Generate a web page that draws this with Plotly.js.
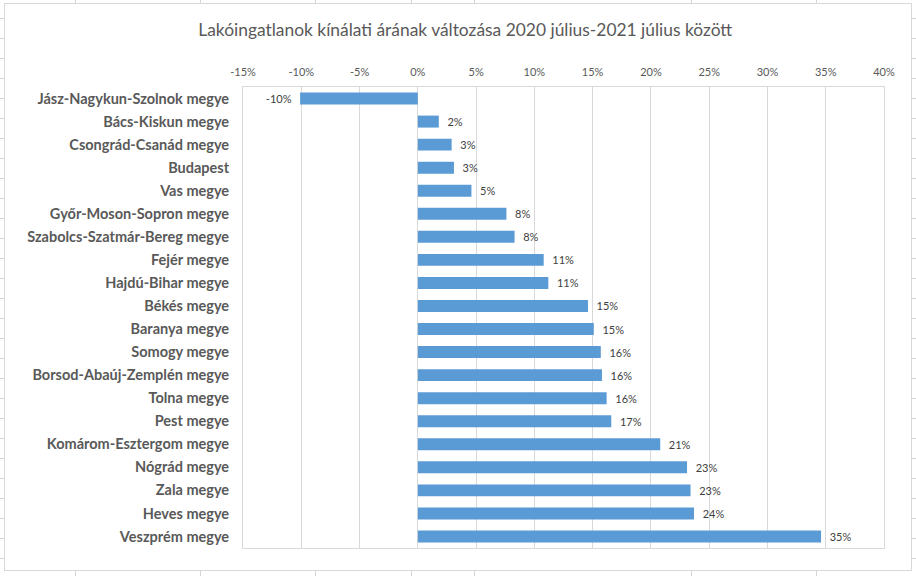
<!DOCTYPE html>
<html>
<head>
<meta charset="utf-8">
<script src="https://cdn.plot.ly/plotly-3.0.1.min.js"></script>
<style>
  body { margin: 0; background: #fff; width: 916px; height: 576px; position: relative; overflow: hidden; }
  .sheet-col { position: absolute; top: 0; height: 576px; width: 1px; background: #d4d4d4; }
  .sheet-row { position: absolute; left: 0; width: 916px; height: 1px; background: #d4d4d4; }
  #frame { position: absolute; left: 4px; top: 3px; width: 906px; height: 566px;
           border: 1px solid #d9d9d9; background: #fff; }
  #chart { width: 906px; height: 566px; }
</style>
</head>
<body>
<div id="frame"><div id="chart"></div></div>
<script>
// counties, top to bottom
var counties = [
  "Jász-Nagykun-Szolnok megye", "Bács-Kiskun megye", "Csongrád-Csanád megye",
  "Budapest", "Vas megye", "Győr-Moson-Sopron megye", "Szabolcs-Szatmár-Bereg megye",
  "Fejér megye", "Hajdú-Bihar megye", "Békés megye", "Baranya megye", "Somogy megye",
  "Borsod-Abaúj-Zemplén megye", "Tolna megye", "Pest megye", "Komárom-Esztergom megye",
  "Nógrád megye", "Zala megye", "Heves megye", "Veszprém megye"
];

// price change in %
var priceChange = [
  -10.1, 1.8, 2.9, 3.1, 4.6, 7.6, 8.3, 10.8, 11.2, 14.6,
  15.1, 15.7, 15.8, 16.2, 16.6, 20.8, 23.1, 23.4, 23.7, 34.6
];

var tickVals = [-15, -10, -5, 0, 5, 10, 15, 20, 25, 30, 35, 40];
var tickLabels = ["-15%", "-10%", "-5%", "0%", "5%", "10%", "15%", "20%", "25%", "30%", "35%", "40%"];

// spreadsheet grid behind the chart
var sheetCols = [75, 200, 315, 411, 474, 691, 816];
sheetCols.forEach(function (x) {
  var d = document.createElement("div");
  d.className = "sheet-col";
  d.style.left = x + "px";
  document.body.insertBefore(d, document.body.firstChild);
});
for (var y = 18; y < 576; y += 20) {
  var r = document.createElement("div");
  r.className = "sheet-row";
  r.style.top = y + "px";
  document.body.insertBefore(r, document.body.firstChild);
}

var labels = priceChange.map(function (v) {
  return "\u00a0\u00a0" + Math.round(v) + "%\u00a0\u00a0";
});

var trace = {
  type: "bar",
  orientation: "h",
  x: priceChange,
  y: counties,
  marker: { color: "#5b9bd5" },
  text: labels,
  textposition: "outside",
  cliponaxis: false,
  constraintext: "none",
  textfont: { family: "Lato, sans-serif", size: 11, color: "#404040" },
  hoverinfo: "x+y"
};

var layout = {
  width: 906,
  height: 566,
  margin: { l: 238, r: 27, t: 83, b: 22 },
  paper_bgcolor: "#fff",
  plot_bgcolor: "#fff",
  showlegend: false,
  bargap: 0.48,
  font: { family: "Lato, sans-serif", color: "#595959" },
  title: {
    text: "Lakóingatlanok kínálati árának változása 2020 július-2021 július között",
    font: { family: "Lato, sans-serif", size: 17.4, color: "#595959" },
    x: 0.508, xanchor: "center",
    y: 1 - 26 / 566, yanchor: "middle", yref: "container"
  },
  xaxis: {
    side: "top",
    range: [-15, 40],
    tickvals: tickVals,
    ticktext: tickLabels,
    ticks: "",
    ticklabelstandoff: 6,
    tickfont: { size: 11, color: "#595959" },
    showgrid: true,
    gridcolor: "#d9d9d9",
    zeroline: true,
    zerolinecolor: "#d9d9d9",
    zerolinewidth: 1,
    showline: true,
    linecolor: "#d9d9d9",
    mirror: true,
    fixedrange: true
  },
  yaxis: {
    autorange: "reversed",
    ticks: "",
    ticklabelstandoff: 10,
    tickfont: { size: 14.5, color: "#595959", weight: "bold" },
    showline: true,
    linecolor: "#d9d9d9",
    mirror: true,
    showgrid: false,
    fixedrange: true
  }
};

Plotly.newPlot("chart", [trace], layout, { displayModeBar: false, staticPlot: true });
</script>
</body>
</html>
